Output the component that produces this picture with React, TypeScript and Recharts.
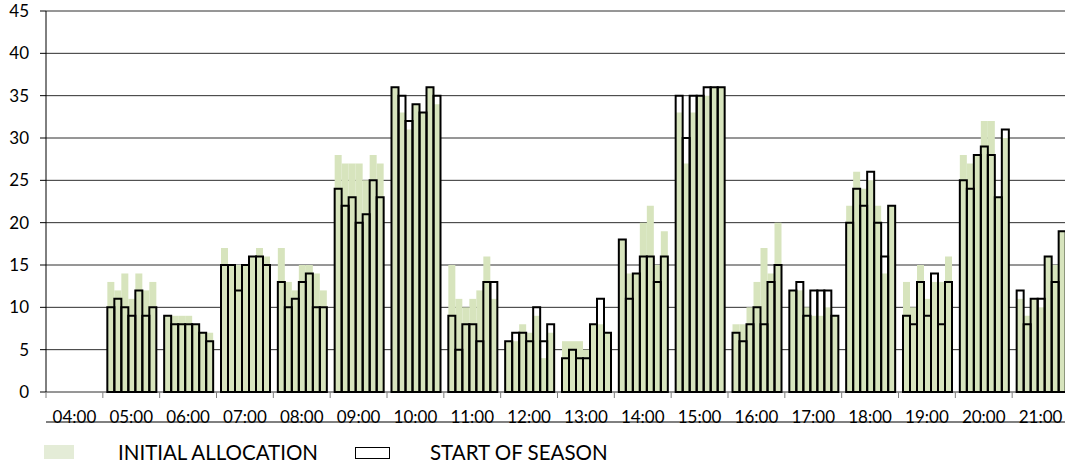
import React from "react";
import { Bar, BarChart, CartesianGrid, XAxis, YAxis } from "recharts";

const hours = [
  "04:00", "05:00", "06:00", "07:00", "08:00", "09:00", "10:00", "11:00", "12:00",
  "13:00", "14:00", "15:00", "16:00", "17:00", "18:00", "19:00", "20:00", "21:00",
];

// seven slots per hour
const initialAllocation: (number | null)[][] = [
  [null, null, null, null, null, null, null],
  [13, 12, 14, 11, 14, 12, 13],
  [9, 9, 9, 9, 8, 7, 7],
  [17, 15, 15, 15, 16, 17, 16],
  [17, 13, 12, 15, 15, 14, 12],
  [28, 27, 27, 27, 25, 28, 27],
  [36, 33, 31, 34, 33, 36, 34],
  [15, 11, 10, 11, 12, 16, 11],
  [6, 6, 8, 7, 9, 4, 7],
  [6, 6, 6, 5, 8, 8, 7],
  [18, 14, 14, 20, 22, 15, 19],
  [33, 27, 33, 35, 35, 36, 36],
  [8, 8, 10, 13, 17, 14, 20],
  [12, 12, 10, 9, 9, 10, 9],
  [22, 26, 24, 25, 22, 14, 22],
  [13, 10, 15, 11, 13, 13, 16],
  [28, 27, 28, 32, 32, 23, 30],
  [11, 9, 11, 10, 16, 15, 19],
];

const startOfSeason: (number | null)[][] = [
  [null, null, null, null, null, null, null],
  [10, 11, 10, 9, 12, 9, 10],
  [9, 8, 8, 8, 8, 7, 6],
  [15, 15, 12, 15, 16, 16, 15],
  [13, 10, 11, 13, 14, 10, 10],
  [24, 22, 23, 20, 21, 25, 23],
  [36, 35, 32, 34, 33, 36, 35],
  [9, 5, 8, 8, 6, 13, 13],
  [6, 7, 7, 6, 10, 6, 8],
  [4, 5, 4, 4, 8, 11, 7],
  [18, 11, 14, 16, 16, 13, 16],
  [35, 30, 35, 35, 36, 36, 36],
  [7, 6, 8, 10, 8, 13, 15],
  [12, 13, 9, 12, 12, 12, 9],
  [20, 24, 22, 26, 20, 16, 22],
  [9, 8, 13, 9, 14, 8, 13],
  [25, 24, 28, 29, 28, 23, 31],
  [12, 8, 11, 11, 16, 13, 19],
];

const yTicks = [0, 5, 10, 15, 20, 25, 30, 35, 40, 45];
const slots = [0, 1, 2, 3, 4, 5, 6];

const data = hours.map((hour, h) => {
  const row: Record<string, string | number | null> = { hour };
  slots.forEach((k) => {
    row[`i${k}`] = initialAllocation[h][k];
    row[`s${k}`] = startOfSeason[h][k];
  });
  return row;
});

const W = 1070;
const H = 467;
const Y_W = 46;
const X_H = 40;
const MARGIN = { top: 11, right: 1, bottom: 35, left: 0 };
const BAND = (W - MARGIN.left - MARGIN.right - Y_W) / hours.length;
const AXIS_Y = H - MARGIN.bottom - X_H;
const GREEN = "#d7e4bd";
const FONT = "Lato, 'Open Sans', sans-serif";

// label at band centre, tick mark on the band's left edge
function HourTick(props: any) {
  const { x, payload } = props;
  const half = payload?.offset || BAND / 2;
  return (
    <g>
      <line
        x1={x - half}
        x2={x - half}
        y1={AXIS_Y}
        y2={AXIS_Y + 6}
        stroke="#808080"
        strokeWidth={1}
      />
      <text
        x={x}
        y={AXIS_Y + 31}
        textAnchor="middle"
        fill="#000"
        fontSize={17}
        fontFamily={FONT}
      >
        {payload.value}
      </text>
    </g>
  );
}

const legendText: React.CSSProperties = {
  position: "absolute",
  top: 439,
  fontSize: 20.5,
  lineHeight: "26px",
  color: "#000",
  whiteSpace: "nowrap",
};

export default function App() {
  return (
    <div
      style={{
        position: "fixed",
        left: 0,
        top: 0,
        width: 1065,
        height: H,
        overflow: "hidden",
        background: "#fff",
        fontFamily: FONT,
      }}
    >
      <BarChart
        width={W}
        height={H}
        data={data}
        margin={MARGIN}
        barGap={0}
        barCategoryGap={4.5}
      >
        <CartesianGrid xAxisId="init" vertical={false} stroke="#2e2e2e" strokeWidth={1} />
        <XAxis
          xAxisId="init"
          dataKey="hour"
          height={X_H}
          axisLine={{ stroke: "#000", strokeWidth: 1 }}
          tickLine={false}
          tickSize={0}
          tickMargin={0}
          interval={0}
          tick={<HourTick />}
        />
        <XAxis xAxisId="fill" dataKey="hour" hide />
        <XAxis xAxisId="line" dataKey="hour" hide />
        <YAxis
          width={Y_W}
          domain={[0, 45]}
          ticks={yTicks}
          interval={0}
          axisLine={{ stroke: "#000", strokeWidth: 1 }}
          tickLine={{ stroke: "#000" }}
          tickSize={6}
          tickMargin={11}
          tick={{ fill: "#000", fontSize: 17, fontFamily: FONT }}
        />
        {slots.map((k) => (
          <Bar
            key={`f${k}`}
            xAxisId="fill"
            dataKey={`s${k}`}
            fill="#fff"
            isAnimationActive={false}
          />
        ))}
        {slots.map((k) => (
          <Bar
            key={`i${k}`}
            xAxisId="init"
            dataKey={`i${k}`}
            fill={GREEN}
            isAnimationActive={false}
          />
        ))}
        {slots.map((k) => (
          <Bar
            key={`l${k}`}
            xAxisId="line"
            dataKey={`s${k}`}
            fill="none"
            stroke="#000"
            strokeWidth={2}
            isAnimationActive={false}
          />
        ))}
      </BarChart>
      <div
        style={{
          position: "absolute",
          left: 44,
          top: 445,
          width: 30,
          height: 14,
          background: "#e4ecd7",
        }}
      />
      <div style={{ ...legendText, left: 118 }}>INITIAL ALLOCATION</div>
      <div
        style={{
          position: "absolute",
          left: 355,
          top: 447,
          width: 33,
          height: 10,
          border: "1.5px solid #000",
          background: "#fff",
        }}
      />
      <div style={{ ...legendText, left: 430 }}>START OF SEASON</div>
    </div>
  );
}
